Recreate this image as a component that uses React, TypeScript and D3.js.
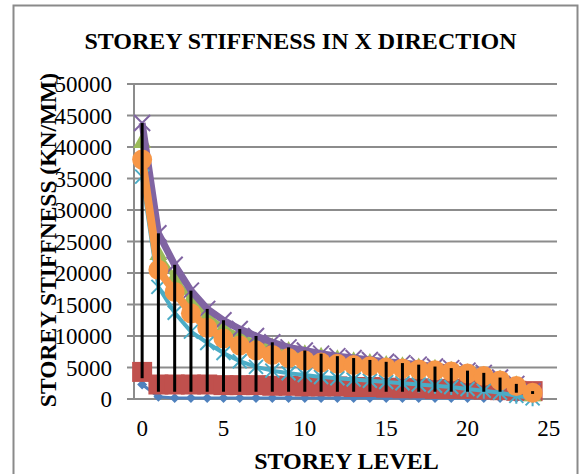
import React from "react";
import * as d3 from "d3";

const levels = [0,1,2,3,4,5,6,7,8,9,10,11,12,13,14,15,16,17,18,19,20,21,22,23,24];
const seriesBlue = [2300,350,150,150,150,150,150,150,150,150,150,150,150,150,150,150,150,150,150,150,150,150,150,150,100];
const seriesRed = [4300,2300,2300,2300,2300,2200,2200,2200,2100,2100,2000,2000,2000,1900,1900,1800,1700,1700,1600,1600,1600,1500,1400,1300,1250];
const seriesGreen = [40800,23000,19300,15800,13200,11300,10000,9000,8200,7600,7100,6700,6300,6000,5700,5400,5200,5000,4800,4500,4100,3700,3100,2200,600];
const seriesPurple = [43800,26300,21300,17200,14300,12500,11100,10000,9000,8200,7700,7200,6800,6500,6200,5900,5700,5450,5150,4900,4500,4150,3400,2400,1250];
const seriesAqua = [35300,17800,13700,10700,8900,7300,6000,5100,4500,4100,3800,3500,3300,3100,2900,2700,2500,2300,2100,1900,1600,1300,1000,500,100];
const seriesOrange = [38000,20500,17000,13600,11300,9600,8500,7700,7000,6500,6100,5800,5600,5400,5200,5000,4850,4700,4550,4350,4050,3650,2950,2050,1000];
const hiLoLow = [3300,1150,1150,1150,1150,1150,1150,1150,1150,1150,1150,1150,1150,1150,1150,1150,1150,1150,1150,1150,1150,1150,1150,1000,800];

const yTicks = [0,5000,10000,15000,20000,25000,30000,35000,40000,45000,50000];
const xTicks = [0,5,10,15,20,25];

const title = "STOREY STIFFNESS IN X DIRECTION";
const xTitle = "STOREY LEVEL";
const yTitle = "STOREY STIFFNESS (KN/MM)";

const FONT = "'Liberation Serif', 'Times New Roman', serif";

type Series = { values: number[]; color: string; width: number; marker: string };
const series: Series[] = [
  { values: seriesBlue, color: "#4F81BD", width: 3, marker: "diamond" },
  { values: seriesRed, color: "#C0504D", width: 7, marker: "square" },
  { values: seriesGreen, color: "#9BBB59", width: 5, marker: "triangle" },
  { values: seriesPurple, color: "#8064A2", width: 7, marker: "x" },
  { values: seriesAqua, color: "#4BACC6", width: 4, marker: "star" },
  { values: seriesOrange, color: "#F79646", width: 8, marker: "circle" },
];

function Marker({ kind, x, y, color }: { kind: string; x: number; y: number; color: string }) {
  switch (kind) {
    case "diamond":
      return <path d={`M${x},${y - 5}L${x + 5},${y}L${x},${y + 5}L${x - 5},${y}Z`} fill={color} />;
    case "square":
      return <rect x={x - 10} y={y - 10} width={20} height={20} fill={color} />;
    case "triangle":
      return <path d={`M${x},${y - 10}L${x + 9},${y + 6}L${x - 9},${y + 6}Z`} fill={color} />;
    case "x":
      return (
        <path d={`M${x - 8},${y - 8}L${x + 8},${y + 8}M${x + 8},${y - 8}L${x - 8},${y + 8}`} stroke={color} strokeWidth={2} fill="none" />
      );
    case "star":
      return (
        <path
          d={`M${x - 7},${y - 7}L${x + 7},${y + 7}M${x + 7},${y - 7}L${x - 7},${y + 7}M${x},${y - 8}L${x},${y + 8}`}
          stroke={color}
          strokeWidth={2}
          fill="none"
        />
      );
    case "circle":
      return <circle cx={x} cy={y} r={10} fill={color} />;
    default:
      return null;
  }
}

export default function App() {
  const W = 584, H = 474;
  const x = d3.scaleLinear().domain([-0.5, 25.5]).range([134, 557]);
  const y = d3.scaleLinear().domain([0, 50000]).range([399, 84]);

  const line = (vals: number[]) =>
    d3.line<number>().x((_, i) => x(levels[i])).y((v) => y(v))(vals) || "";

  return (
    <svg width={W} height={H} style={{ position: "absolute", left: 0, top: 0, background: "#fff" }}>
      <rect x={0} y={0} width={W} height={H} fill="#fff" />
      <rect x={13.5} y={5.5} width={564} height={480} fill="none" stroke="#8a8a8a" strokeWidth={2} />
      <text x={300.5} y={48.5} textAnchor="middle" fontFamily={FONT} fontWeight="bold" fontSize={24} fill="#000">
        {title}
      </text>
      {yTicks.map((t) => (
        <g key={t}>
          <line x1={127} x2={557} y1={y(t)} y2={y(t)} stroke="#8c8c8c" strokeWidth={2} />
          <text x={112} y={y(t) + 8} textAnchor="end" fontFamily={FONT} fontSize={23} fill="#000">
            {t}
          </text>
        </g>
      ))}
      <line x1={134} x2={134} y1={y(50000)} y2={y(0)} stroke="#8c8c8c" strokeWidth={2} />
      {xTicks.map((t) => (
        <text key={t} x={x(t)} y={435.5} textAnchor="middle" fontFamily={FONT} fontSize={23} fill="#000">
          {t}
        </text>
      ))}
      {series.map((s, si) => (
        <g key={si}>
          <path d={line(s.values)} fill="none" stroke={s.color} strokeWidth={s.width} strokeLinejoin="round" />
          {s.values.map((v, i) => (
            <Marker key={i} kind={s.marker} x={x(levels[i])} y={y(v)} color={s.color} />
          ))}
        </g>
      ))}
      {levels.map((l, i) => (
        <line key={l} x1={x(l)} x2={x(l)} y1={y(seriesPurple[i])} y2={y(hiLoLow[i])} stroke="#000" strokeWidth={3} />
      ))}
      <text x={346.5} y={468.5} textAnchor="middle" fontFamily={FONT} fontWeight="bold" fontSize={24} fill="#000">
        {xTitle}
      </text>
      <text
        transform={`translate(56,240) rotate(-90)`}
        textAnchor="middle"
        fontFamily={FONT}
        fontWeight="bold"
        fontSize={23.5}
        fill="#000"
      >
        {yTitle}
      </text>
    </svg>
  );
}
